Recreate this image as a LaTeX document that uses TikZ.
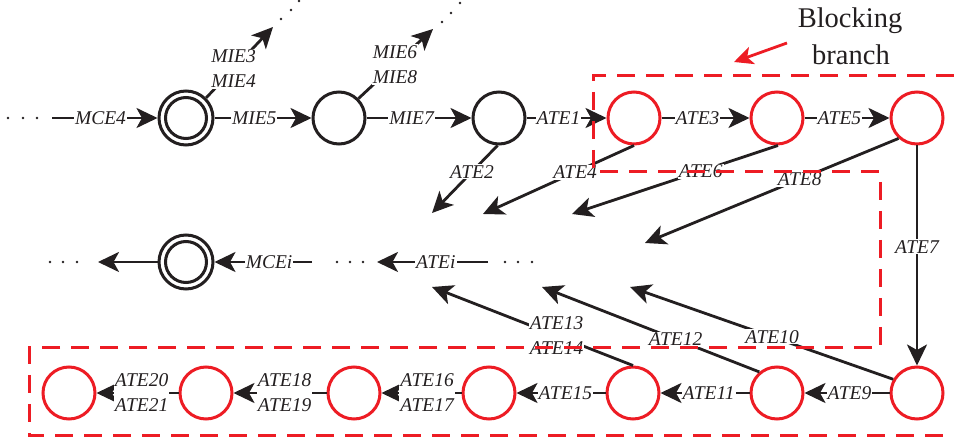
\documentclass[tikz,border=0pt]{standalone}
\usepackage{fontspec}
\setmainfont{Liberation Serif}
\usetikzlibrary{arrows.meta}
\definecolor{ink}{HTML}{231F20}
\definecolor{bred}{HTML}{ED1C24}
\begin{document}
\begin{tikzpicture}[x=1pt,y=-1pt,
  st/.style={circle, draw=ink, line width=3pt, minimum size=52pt, inner sep=0pt},
  rst/.style={st, draw=bred},
  dst/.style={circle, draw=ink, line width=3pt, minimum size=54pt, inner sep=0pt,
     path picture={\draw[ink, line width=3pt] (path picture bounding box.center) circle (20.5pt);}},
  conn/.style={draw=ink, line width=2.8pt, -{Stealth[length=21pt,width=20pt,inset=5.5pt]}},
  lab/.style={fill=white, inner sep=1pt, text=ink, font=\fontsize{19.5}{25}\selectfont\itshape, align=center},
  dotmark/.style={fill=ink},
  bigtxt/.style={text=ink, font=\fontsize{28.5}{37}\selectfont, anchor=base, inner sep=0pt}
]
\useasboundingbox (0,0) rectangle (954,438);

% states
\node[dst] (A) at (186,118) {};
\node[st]  (B) at (339,118) {};
\node[st]  (C) at (499,118) {};
\node[rst] (D) at (634,118) {};
\node[rst] (E) at (777,118) {};
\node[rst] (F) at (917,118) {};
\node[dst] (G) at (186,262) {};
\node[rst] (b1) at (69,393) {};
\node[rst] (b2) at (206,393) {};
\node[rst] (b3) at (354,393) {};
\node[rst] (b4) at (489,393) {};
\node[rst] (b5) at (633,393) {};
\node[rst] (b6) at (777,393) {};
\node[rst] (b7) at (917,393) {};

% free ends
\coordinate (s0) at (52,118);
\coordinate (tA) at (273,27);
\coordinate (tB) at (433,29);
\coordinate (t2) at (432,213);
\coordinate (t4) at (483,214);
\coordinate (t6) at (572,214);
\coordinate (t8) at (645,243);
\coordinate (t13) at (432,287);
\coordinate (t12) at (542,287);
\coordinate (t10) at (630,287);
\coordinate (mL) at (98,262);
\coordinate (mR1) at (312,262);
\coordinate (mI1) at (377,262);
\coordinate (mR2) at (488,262);
\coordinate (rA0) at (787,43);
\coordinate (rA1) at (734,62);

% dots
\foreach \x/\y in {8/118,23/118,37/118, 50/262,63/262,77/262, 337/262,350/262,363/262, 505/262,518/262,532/262,
                   281/19,291/10,299/1, 442/22,451/13,460/3}
  \fill[dotmark] (\x,\y) circle (1.3pt);

% top row
\draw[conn] (s0) -- node[lab,pos=.46]{MCE4} (A);
\draw[conn] (A) -- node[lab,pos=.41]{MIE5} (B);
\draw[conn] (B) -- node[lab,pos=.43]{MIE7} (C);
\draw[conn] (C) -- node[lab,pos=.40]{ATE1} (D);
\draw[conn] (D) -- node[lab,pos=.41]{ATE3} (E);
\draw[conn] (E) -- node[lab,pos=.41]{ATE5} (F);

% upward
\draw[conn] (A.45) -- node[lab,pos=.41]{MIE3\\MIE4} (tA);
\draw[conn] (B.45) -- node[lab,pos=.49]{MIE6\\MIE8} (tB);

% downward diagonals
\draw[conn] (C.-93) -- node[lab,pos=.39]{ATE2} (t2);
\draw[conn] (D.south) -- node[lab,pos=.39]{ATE4} (t4);
\draw[conn] (E.-88) -- node[lab,pos=.375]{ATE6} (t6);
\draw[conn] (F.-132) -- node[lab,pos=.39]{ATE8} (t8);
\draw[conn] (F) -- node[lab,pos=.46]{ATE7} (b7);

% upward diagonals from bottom
\draw[conn] (b7.150) -- node[lab,pos=.46]{ATE10} (t10);
\draw[conn] (b6.130) -- node[lab,pos=.385]{ATE12} (t12);
\draw[conn] (b5.north) -- node[lab,pos=.38]{ATE13\\ATE14} (t13);

% bottom row
\draw[conn] (b7) -- node[lab,pos=.47]{ATE9} (b6);
\draw[conn] (b6) -- node[lab,pos=.46]{ATE11} (b5);
\draw[conn] (b5) -- node[lab,pos=.45]{ATE15} (b4);
\draw[conn] (b4) -- node[lab,pos=.43]{ATE16\\ATE17} (b3);
\draw[conn] (b3) -- node[lab,pos=.45]{ATE18\\ATE19} (b2);
\draw[conn] (b2) -- node[lab,pos=.45]{ATE20\\ATE21} (b1);

% middle row
\draw[conn] (G) -- (mL);
\draw[conn] (mR1) -- node[lab,pos=.44]{MCEi} (G);
\draw[conn] (mR2) -- node[lab,pos=.47]{ATEi} (mI1);

% blocking branch region
\draw[bred, line width=3pt, dash pattern=on 18pt off 11pt]
  (954,76) -- (593,76) -- (593,172) -- (880,172) -- (880,348) -- (29,348) -- (29,436) -- (954,436);

\node[bigtxt] (bl1) at (850,28) {Blocking};
\node[bigtxt] (bl2) at (851,65) {branch};
\draw[bred, line width=2.8pt, -{Stealth[length=19pt,width=18pt,inset=5pt]}] (rA0) -- (rA1);
\end{tikzpicture}
\end{document}
